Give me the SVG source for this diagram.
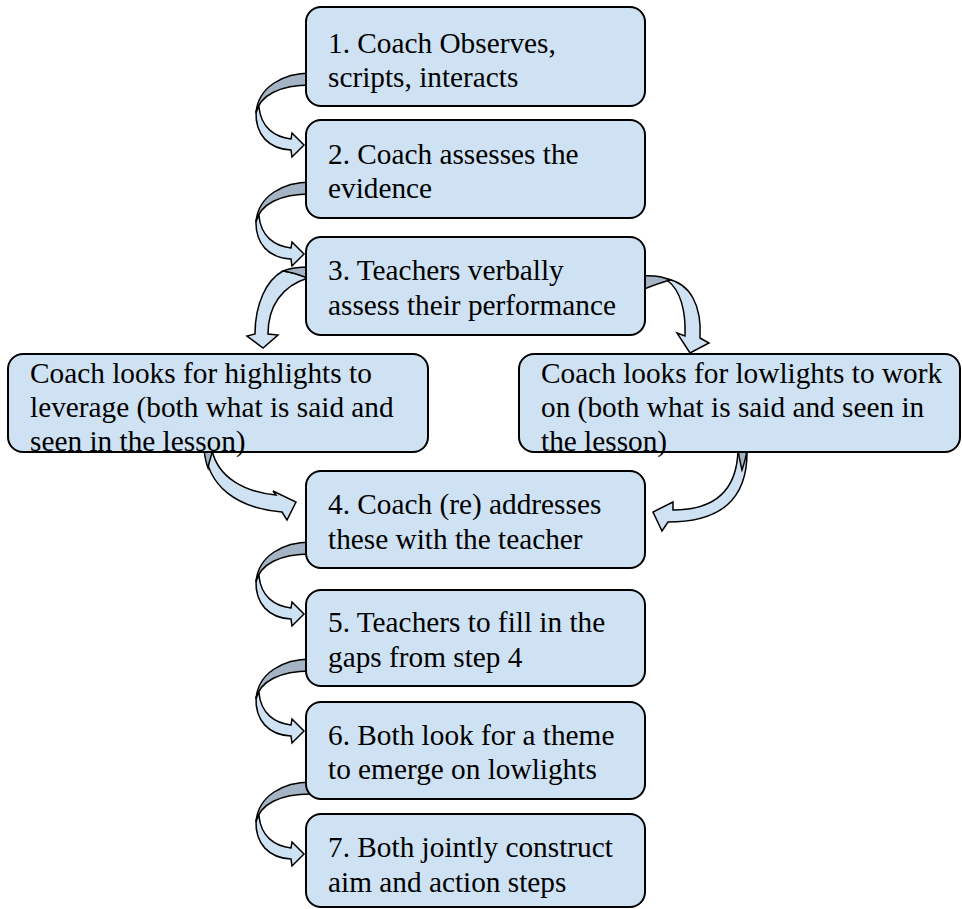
<svg xmlns="http://www.w3.org/2000/svg" xmlns:xlink="http://www.w3.org/1999/xlink" width="962" height="909" viewBox="0 0 962 909">
<style>
.box{fill:#cfe2f3;stroke:#000;stroke-width:2}
.lt{fill:#cfe2f3;stroke:#000;stroke-width:1.5;stroke-linejoin:miter}
.dk{fill:#a4b4c4;stroke:#000;stroke-width:1.5}
text{font-family:"Liberation Serif","Times New Roman",serif;font-size:29.3px;fill:#000}
</style>
<defs>
<g id="curl">
<path class="lt" d="M -46,34 C -44,55 -30,64 -14,66 L -13,60 L -1,72 L -13,84 L -14,77 C -36,76 -50,62 -49,38 Z"/>
<path class="dk" d="M 6,0 C -22,0 -47,14 -49,40 C -45,22 -25,12 6,12 Z"/>
</g>
</defs>
<rect width="962" height="909" fill="#fff"/>
<g id="connectors">
<use xlink:href="#curl" transform="translate(305,73)"/>
<use xlink:href="#curl" transform="translate(305,182)"/>
<use xlink:href="#curl" transform="translate(305,542)"/>
<use xlink:href="#curl" transform="translate(305,659)"/>
<use xlink:href="#curl" transform="translate(305,782)"/>
<path class="lt" d="M 283,271 C 266,280 255,305 255,334 L 247,336 L 263,348 L 278,335 L 268,334 C 268,306 282,286 308,278 C 298,274 290,272 283,271 Z"/>
<path class="dk" d="M 310,267 C 298,267 290,268 283,271 C 292,272 300,275 310,279 Z"/>
<path class="lt" d="M 668,279 C 690,284 702,305 700,338 L 709,343 L 690,353 L 677,333 L 685,336 C 686,310 680,290 668,281 Z"/>
<path class="dk" d="M 640,276 C 652,275 662,276 670,280 C 660,283 650,286 640,291 Z"/>
<path class="lt" d="M 205,450 C 208,485 235,508 282,512 L 287,520 L 296,502 L 273,491 L 276,495 C 245,492 218,478 212,450 Z"/>
<path class="dk" d="M 204,450 L 213,450 C 211,456 209,462 208,468 C 206,463 205,458 204,450 Z"/>
<path class="lt" d="M 747,450 C 748,500 720,522 668,522 L 662,531 L 653,512 L 673,502 L 673,510 C 715,510 737,490 738,450 Z"/>
<path class="dk" d="M 738,450 L 747,450 C 746,458 744,464 742,470 C 740,462 739,456 738,450 Z"/>
</g>
<g id="n1"><rect class="box" x="306" y="7" width="339" height="99" rx="15"/><text x="328" y="53">1. Coach Observes,</text><text x="328" y="87">scripts, interacts</text></g>
<g id="n2"><rect class="box" x="306" y="120" width="339" height="98" rx="15"/><text x="328" y="164">2. Coach assesses the</text><text x="328" y="198">evidence</text></g>
<g id="n3"><rect class="box" x="306" y="237" width="339" height="98" rx="15"/><text x="328" y="280">3. Teachers verbally</text><text x="328" y="315">assess their performance</text></g>
<g id="nL"><rect class="box" x="8" y="354" width="420" height="98" rx="15"/><text x="30" y="383">Coach looks for highlights to</text><text x="30" y="417">leverage (both what is said and</text><text x="30" y="451">seen in the lesson)</text></g>
<g id="nR"><rect class="box" x="519" y="354" width="441" height="98" rx="15"/><text x="541" y="383">Coach looks for lowlights to work</text><text x="541" y="417">on (both what is said and seen in</text><text x="541" y="451">the lesson)</text></g>
<g id="n4"><rect class="box" x="306" y="471" width="339" height="97" rx="15"/><text x="328" y="514">4. Coach (re) addresses</text><text x="328" y="549">these with the teacher</text></g>
<g id="n5"><rect class="box" x="306" y="590" width="339" height="96" rx="15"/><text x="328" y="632">5. Teachers to fill in the</text><text x="328" y="667">gaps from step 4</text></g>
<g id="n6"><rect class="box" x="306" y="702" width="339" height="97" rx="15"/><text x="328" y="745">6. Both look for a theme</text><text x="328" y="779">to emerge on lowlights</text></g>
<g id="n7"><rect class="box" x="306" y="814" width="339" height="93" rx="15"/><text x="328" y="857">7. Both jointly construct</text><text x="328" y="892">aim and action steps</text></g>
</svg>
